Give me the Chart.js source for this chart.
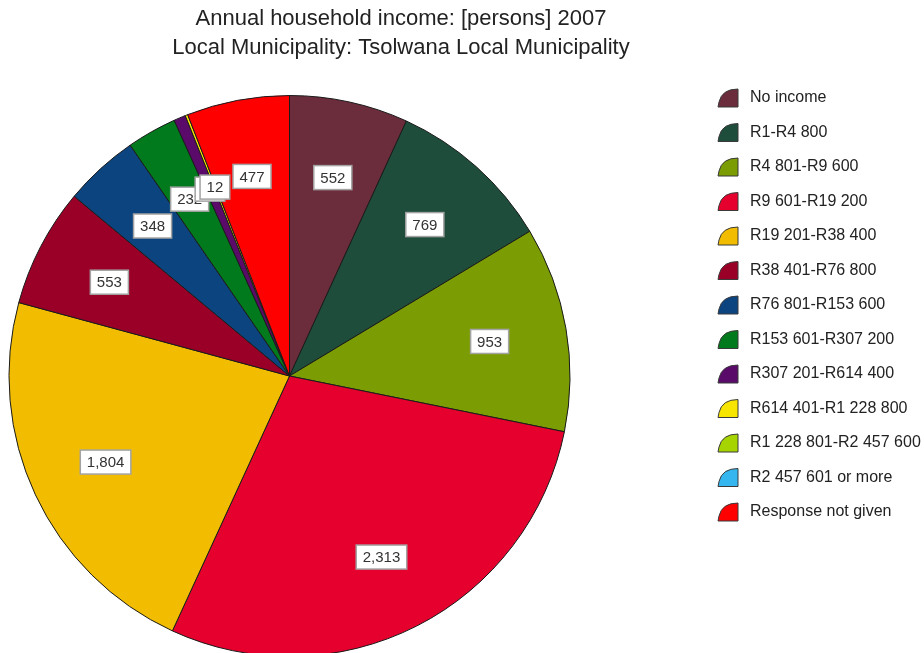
<!DOCTYPE html>
<html>
<head>
<meta charset="utf-8">
<script src="https://cdn.jsdelivr.net/npm/chart.js@4.4.1/dist/chart.umd.min.js"></script>
<style>
  html, body { margin: 0; padding: 0; background: #ffffff; overflow: hidden; }
  #wrap { width: 924px; height: 653px; overflow: hidden; position: relative; }
  canvas { display: block; }
</style>
</head>
<body>
<div id="wrap"><canvas id="c" width="924" height="700"></canvas></div>
<script>
// Income bands and household counts
const categories = [
  "No income",
  "R1-R4 800",
  "R4 801-R9 600",
  "R9 601-R19 200",
  "R19 201-R38 400",
  "R38 401-R76 800",
  "R76 801-R153 600",
  "R153 601-R307 200",
  "R307 201-R614 400",
  "R614 401-R1 228 800",
  "R1 228 801-R2 457 600",
  "R2 457 601 or more",
  "Response not given"
];
const households = [552, 769, 953, 2313, 1804, 553, 348, 232, 55, 12, 0, 0, 477];
const sliceColors = [
  "#6b2d3b", "#1e4d3b", "#7b9c03", "#e5002d", "#f2bd00", "#9a0027", "#0c447f",
  "#007a1c", "#5a0a69", "#f7e500", "#a6d400", "#35b6ef", "#ff0000"
];
const titleLines = [
  "Annual household income: [persons] 2007",
  "Local Municipality: Tsolwana Local Municipality"
];

const FONT = '"Liberation Sans", Arial, sans-serif';

// Title text above the pie
const titlePlugin = {
  id: "titleText",
  afterDraw(chart) {
    const ctx = chart.ctx;
    ctx.save();
    ctx.fillStyle = "#222222";
    ctx.font = "22px " + FONT;
    ctx.textAlign = "center";
    ctx.textBaseline = "middle";
    ctx.fillText(titleLines[0], 401, 19);
    ctx.fillText(titleLines[1], 401, 48);
    ctx.restore();
  }
};

// Boxed value labels inside each slice
const valueLabels = {
  id: "valueLabels",
  afterDatasetsDraw(chart) {
    const ctx = chart.ctx;
    const meta = chart.getDatasetMeta(0);
    const data = chart.data.datasets[0].data;
    ctx.save();
    ctx.font = "15px " + FONT;
    ctx.textAlign = "center";
    ctx.textBaseline = "middle";
    meta.data.forEach((arc, i) => {
      if (!data[i]) return;
      const mid = (arc.startAngle + arc.endAngle) / 2;
      const r = arc.outerRadius * 0.724;
      const x = arc.x + Math.cos(mid) * r;
      const y = arc.y + Math.sin(mid) * r;
      const txt = data[i].toLocaleString("en-US");
      const w = ctx.measureText(txt).width + 13;
      const h = 24;
      ctx.fillStyle = "#ffffff";
      ctx.fillRect(x - w / 2, y - h / 2, w, h);
      ctx.strokeStyle = "#a3a3a3";
      ctx.lineWidth = 1.5;
      ctx.strokeRect(x - w / 2, y - h / 2, w, h);
      ctx.fillStyle = "#333333";
      ctx.fillText(txt, x, y + 1);
    });
    ctx.restore();
  }
};

// Legend with wedge-shaped swatches on the right
const wedgeLegend = {
  id: "wedgeLegend",
  afterDraw(chart) {
    const ctx = chart.ctx;
    const labels = chart.data.labels;
    const colors = chart.data.datasets[0].backgroundColor;
    ctx.save();
    ctx.font = "16px " + FONT;
    ctx.textBaseline = "middle";
    ctx.textAlign = "left";
    labels.forEach((lab, i) => {
      const cy = 98 + i * 34.5;
      const left = 718, right = 738, top = cy - 9, bottom = cy + 9;
      ctx.beginPath();
      ctx.moveTo(right, bottom);
      ctx.lineTo(left, bottom);
      ctx.lineTo(left + 1, bottom - 5);
      ctx.quadraticCurveTo(left + 4, top, right, top);
      ctx.closePath();
      ctx.fillStyle = colors[i];
      ctx.fill();
      ctx.strokeStyle = "#3a3a3a";
      ctx.lineWidth = 1;
      ctx.stroke();
      ctx.fillStyle = "#222222";
      ctx.fillText(lab, 750, cy);
    });
    ctx.restore();
  }
};

new Chart(document.getElementById("c"), {
  type: "pie",
  data: {
    labels: categories,
    datasets: [{
      data: households,
      backgroundColor: sliceColors,
      borderColor: "#1a1a1a",
      borderWidth: 1
    }]
  },
  options: {
    responsive: false,
    animation: false,
    layout: { padding: { left: 8, right: 353, top: 95, bottom: 43 } },
    plugins: {
      legend: { display: false },
      title: { display: false },
      tooltip: { enabled: false }
    }
  },
  plugins: [titlePlugin, valueLabels, wedgeLegend]
});
</script>
</body>
</html>
